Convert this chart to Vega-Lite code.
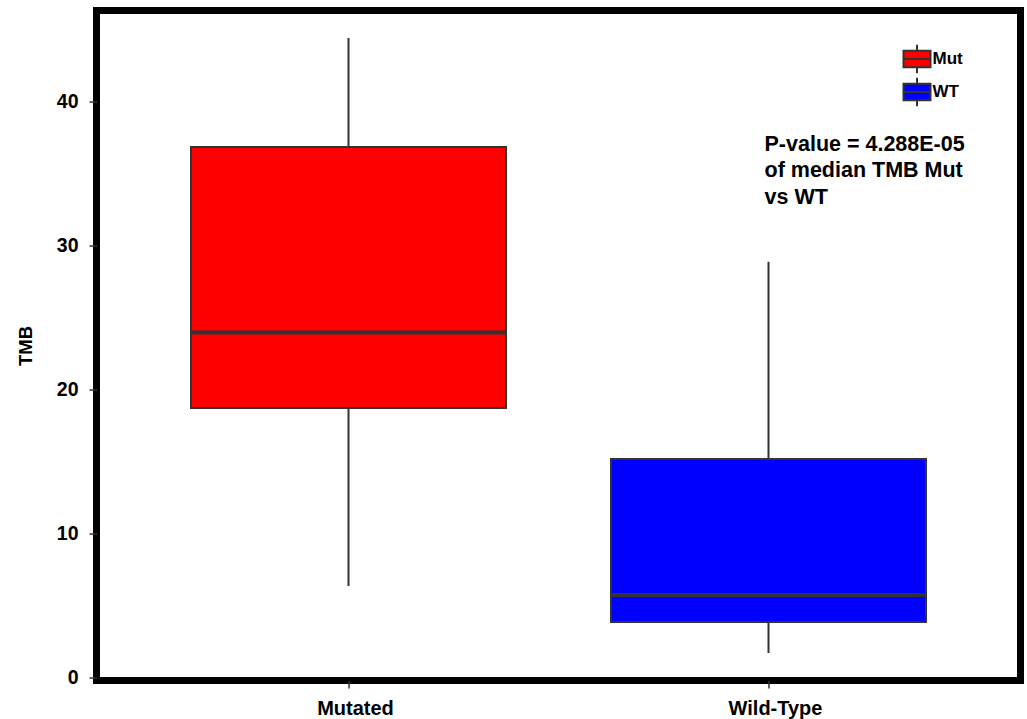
{
  "$schema": "https://vega.github.io/schema/vega-lite/v6.json",
  "autosize": {"type": "none"},
  "padding": {"left": 96.5, "top": 10.5, "right": 6.5, "bottom": 38.5},
  "width": 924,
  "height": 670,
  "background": "white",
  "config": {
    "view": {"stroke": "black", "strokeWidth": 7},
    "font": "Liberation Sans",
    "axis": {"grid": false, "domain": false, "tickColor": "#333333", "tickWidth": 1.5, "tickSize": 7.5,
             "labelFont": "Liberation Sans", "labelFontWeight": "bold", "labelColor": "black",
             "titleFont": "Liberation Sans", "titleFontWeight": "bold", "titleColor": "black"}
  },
  "data": {"values": [
    {"group": "Mutated", "leg": "Mut", "lower": 6.39, "q1": 18.75, "median": 24.0, "q3": 36.875, "upper": 44.44},
    {"group": "Wild-Type", "leg": "WT", "lower": 1.74, "q1": 3.89, "median": 5.76, "q3": 15.2, "upper": 28.9}
  ]},
  "encoding": {
    "x": {"field": "group", "type": "nominal",
          "scale": {"type": "band", "domain": ["Mutated", "Wild-Type"], "paddingInner": 0.25, "paddingOuter": 0.225},
          "axis": {"title": null, "labelAngle": 0, "labelFontSize": 20, "labelPadding": 10.5, "labelOffset": 7}}
  },
  "layer": [
    {
      "mark": {"type": "rule", "color": "#333333", "strokeWidth": 2},
      "encoding": {
        "y": {"field": "lower", "type": "quantitative",
              "scale": {"domain": [-0.174, 46.354], "nice": false, "zero": false},
              "axis": {"title": "TMB", "values": [0, 10, 20, 30, 40], "labelFontSize": 19.5, "labelPadding": 11,
                       "titleFontSize": 18.5, "titlePadding": 21}},
        "y2": {"field": "upper"}
      }
    },
    {
      "mark": {"type": "bar", "stroke": "#333333", "strokeWidth": 2},
      "encoding": {
        "y": {"field": "q1", "type": "quantitative"},
        "y2": {"field": "q3"},
        "fill": {"field": "leg", "type": "nominal",
                 "scale": {"domain": ["Mut", "WT"], "range": ["#ff0000", "#0000ff"]},
                 "legend": {"title": null, "orient": "none", "legendX": 806, "legendY": 34, "padding": 0,
                            "symbolType": "M-1,-0.62H1V0.62H-1Z M-1,0H1 M0,-0.62V-1.05 M0,0.62V1.05",
                            "symbolSize": 729, "symbolStrokeColor": "#333333", "symbolStrokeWidth": 2,
                            "labelFont": "Liberation Sans", "labelFontWeight": "bold", "labelFontSize": 17,
                            "labelColor": "black", "labelOffset": 1, "rowPadding": -6}}
      }
    },
    {
      "mark": {"type": "tick", "orient": "horizontal", "size": 316, "thickness": 4, "color": "#333333", "opacity": 1},
      "encoding": {
        "y": {"field": "median", "type": "quantitative"}
      }
    },
    {
      "data": {"values": [{"group": "Wild-Type", "pos": 36.62}]},
      "mark": {"type": "text", "text": ["P-value = 4.288E-05", "of median TMB Mut", "vs WT"],
               "align": "left", "baseline": "alphabetic", "dx": -4, "lineHeight": 26.5,
               "font": "Liberation Sans", "fontWeight": "bold", "fontSize": 21.5, "color": "black"},
      "encoding": {
        "y": {"field": "pos", "type": "quantitative"}
      }
    }
  ]
}
